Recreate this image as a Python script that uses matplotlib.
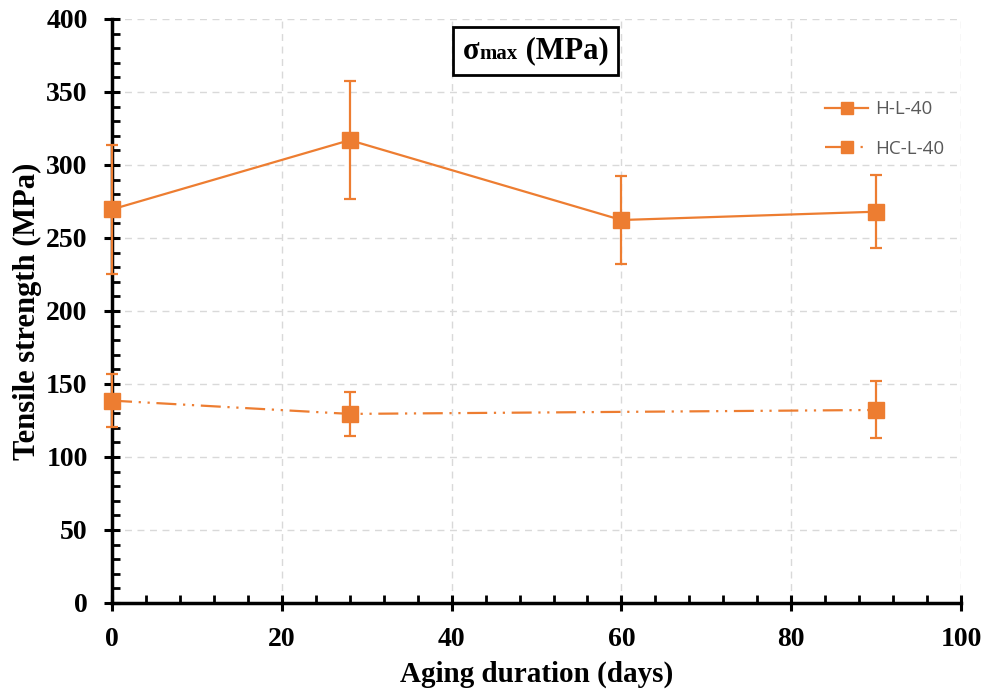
import matplotlib
matplotlib.use("Agg")
import matplotlib.pyplot as plt
from matplotlib.lines import Line2D
from matplotlib.ticker import MultipleLocator
from matplotlib.offsetbox import TextArea, HPacker, AnchoredOffsetbox

# data
days_h = [0, 28, 60, 90]
strength_h = [269.6, 317.0, 262.3, 268.0]
err_h = [44, 40.5, 30, 25]

days_hc = [0, 28, 90]
strength_hc = [138.6, 129.5, 132.2]
err_hc = [18, 15, 19.5]

orange = "#ED7D31"
serif = "Liberation Serif"
dashdotdot = (0, (9, 3, 1, 3, 1, 3))

fig = plt.figure(figsize=(9.88, 6.95), dpi=100)
ax = fig.add_axes([0.1134, 0.1324, 0.8593, 0.8403])

l1 = ax.errorbar(days_h, strength_h, yerr=err_h, color=orange, marker="s",
                 markersize=12, lw=1.6, elinewidth=1.6, capsize=4, capthick=1.6,
                 zorder=3)
l2 = ax.errorbar(days_hc, strength_hc, yerr=err_hc, color=orange, marker="s",
                 markersize=12, lw=1.6, elinewidth=1.6, capsize=4, capthick=1.6,
                 ls=dashdotdot, zorder=3)
for c in (l1, l2):
    for a in c.lines[0:1] + tuple(c.lines[1]) + tuple(c.lines[2]):
        a.set_clip_on(False)

ax.set_xlim(0, 100)
ax.set_ylim(0, 400)
ax.xaxis.set_major_locator(MultipleLocator(20))
ax.xaxis.set_minor_locator(MultipleLocator(4))
ax.yaxis.set_major_locator(MultipleLocator(50))
ax.yaxis.set_minor_locator(MultipleLocator(10))

ax.grid(True, which="major", color="#D9D9D9", ls=(0, (5, 4)), lw=1)
ax.set_axisbelow(True)
for s in ("top", "right"):
    ax.spines[s].set_visible(False)
for s in ("left", "bottom"):
    ax.spines[s].set_linewidth(2.5)
    ax.spines[s].set_zorder(2.5)

ax.tick_params(which="major", direction="inout", length=11, width=2.2, pad=12)
ax.tick_params(which="minor", direction="in", length=6, width=2)

for lab in ax.get_xticklabels() + ax.get_yticklabels():
    lab.set_fontfamily(serif)
    lab.set_fontweight("bold")
    lab.set_fontsize(20)

ax.set_xlabel("Aging duration (days)", fontfamily=serif, fontweight="bold",
              fontsize=21, labelpad=6)
ax.set_ylabel("Tensile strength (MPa)", fontfamily=serif, fontweight="bold",
              fontsize=22, labelpad=3)

handles = [Line2D([], [], color=orange, marker="s", markersize=9, lw=1.6),
           Line2D([], [], color=orange, marker="s", markersize=9, lw=1.6, ls=dashdotdot)]
leg = ax.legend(handles, ["H-L-40", "HC-L-40"], loc="upper right",
                bbox_to_anchor=(1.0, 0.89), frameon=False, handlelength=2.3,
                handletextpad=0.35, labelspacing=1.15,
                prop={"family": "Open Sans", "size": 13.5})
for t in leg.get_texts():
    t.set_color("#595959")

# boxed title sigma_max (MPa)
p1 = TextArea("σ", textprops=dict(family=serif, weight="bold", size=22))
p2 = TextArea("max", textprops=dict(family=serif, weight="bold", size=15))
p3 = TextArea(" (MPa)", textprops=dict(family=serif, weight="bold", size=22))
box = HPacker(children=[p1, p2, p3], align="baseline", pad=0, sep=0)
anch = AnchoredOffsetbox(loc="center", child=box, pad=0.7, borderpad=0,
                         frameon=True, bbox_to_anchor=(0.499, 0.945),
                         bbox_transform=ax.transAxes)
anch.patch.set_edgecolor("black")
anch.patch.set_linewidth(2)
anch.patch.set_boxstyle("square", pad=0.0)
ax.add_artist(anch)

fig.savefig("out.png", dpi=100)
